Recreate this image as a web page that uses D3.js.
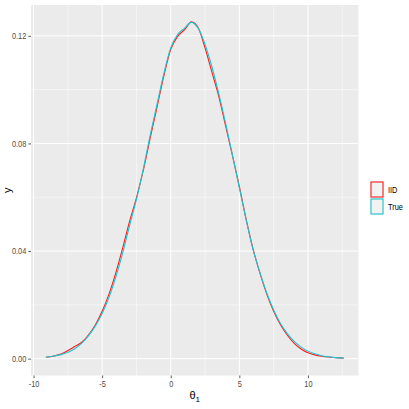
<!DOCTYPE html>
<html>
<head>
<meta charset="utf-8">
<script src="https://cdn.jsdelivr.net/npm/d3@7"></script>
<style>
  body { margin: 0; background: #fff; }
  text { font-family: "Liberation Sans", Arial, sans-serif; }
</style>
</head>
<body>
<script>
// density grid (x) and the two curves
var xs = [-9.1, -8.5, -8, -7.5, -7, -6.5, -6, -5.5, -5, -4.5, -4, -3.5, -3, -2.5, -2, -1.5, -1, -0.5,
          0, 0.5, 1, 1.5, 2, 2.5, 3, 3.5, 4, 4.5, 5, 5.5, 6, 6.5, 7, 7.5, 8, 8.5, 9, 9.5, 10,
          10.5, 11, 11.5, 12, 12.6];
var iid = [0.0005, 0.0010, 0.0017, 0.0030, 0.0045, 0.0060, 0.0088, 0.0125, 0.0176, 0.0240, 0.0320,
           0.0412, 0.0510, 0.0598, 0.0700, 0.0820, 0.0935, 0.1052, 0.1150, 0.1198, 0.1222, 0.1252,
           0.1230, 0.1155, 0.1065, 0.0975, 0.0865, 0.0755, 0.0640, 0.0518, 0.0408, 0.0318, 0.0240,
           0.0176, 0.0126, 0.0087, 0.0057, 0.0036, 0.0022, 0.0014, 0.0009, 0.0006, 0.0004, 0.0002];
var truth = [0.0005, 0.0010, 0.0015, 0.0024, 0.0037, 0.0057, 0.0085, 0.0121, 0.0168, 0.0228, 0.0304,
             0.0393, 0.0495, 0.0592, 0.0705, 0.0830, 0.0945, 0.1060, 0.1155, 0.1205, 0.1228, 0.1250,
             0.1228, 0.1168, 0.1085, 0.0985, 0.0875, 0.0756, 0.0635, 0.0515, 0.0405, 0.0320, 0.0244,
             0.0181, 0.0131, 0.0093, 0.0064, 0.0043, 0.0028, 0.0018, 0.0011, 0.0007, 0.0004, 0.0002];
var seriesNames = ["IID", "True"];
var seriesColors = ["#FF1A1A", "#1CC6D0"];
var xTicks = [-10, -5, 0, 5, 10];
var yTicks = [0, 0.04, 0.08, 0.12];

var W = 409, H = 409;
var panel = { left: 31, top: 5, right: 358.5, bottom: 375.5 };

// ggplot style 5% expansion
var xr = d3.extent(xs), xpad = (xr[1] - xr[0]) * 0.05;
var ymax = d3.max(iid.concat(truth)), ypad = ymax * 0.05;

var x = d3.scaleLinear().domain([xr[0] - xpad, xr[1] + xpad]).range([panel.left, panel.right]);
var y = d3.scaleLinear().domain([-ypad, ymax + ypad]).range([panel.bottom, panel.top]);

var svg = d3.select("body").append("svg")
    .attr("width", W)
    .attr("height", H);

// squeeze text a little, the reference font is a narrow one
function narrow(sel, k) {
    sel.each(function () {
        var w = this.getComputedTextLength();
        d3.select(this).attr("textLength", w * k).attr("lengthAdjust", "spacingAndGlyphs");
    });
}

// panel background
svg.append("rect")
    .attr("x", panel.left).attr("y", panel.top)
    .attr("width", panel.right - panel.left).attr("height", panel.bottom - panel.top)
    .attr("fill", "#EBEBEB");

// minor grid
var xMinor = d3.range(-7.5, 13.6, 5);
var yMinor = [0.02, 0.06, 0.10];
svg.append("g").selectAll("line").data(xMinor).enter().append("line")
    .attr("x1", function (d) { return x(d); }).attr("x2", function (d) { return x(d); })
    .attr("y1", panel.top).attr("y2", panel.bottom)
    .attr("stroke", "#fff").attr("stroke-width", 0.5);
svg.append("g").selectAll("line").data(yMinor).enter().append("line")
    .attr("y1", function (d) { return y(d); }).attr("y2", function (d) { return y(d); })
    .attr("x1", panel.left).attr("x2", panel.right)
    .attr("stroke", "#fff").attr("stroke-width", 0.5);

// major grid
svg.append("g").selectAll("line").data(xTicks).enter().append("line")
    .attr("x1", function (d) { return x(d); }).attr("x2", function (d) { return x(d); })
    .attr("y1", panel.top).attr("y2", panel.bottom)
    .attr("stroke", "#fff").attr("stroke-width", 1);
svg.append("g").selectAll("line").data(yTicks).enter().append("line")
    .attr("y1", function (d) { return y(d); }).attr("y2", function (d) { return y(d); })
    .attr("x1", panel.left).attr("x2", panel.right)
    .attr("stroke", "#fff").attr("stroke-width", 1);

// axes
var xAxis = d3.axisBottom(x).tickValues(xTicks).tickSize(2.7).tickPadding(2).tickFormat(d3.format("d"));
var yAxis = d3.axisLeft(y).tickValues(yTicks).tickSize(2.7).tickPadding(2).tickFormat(d3.format(".2f"));

var gx = svg.append("g").attr("transform", "translate(0," + panel.bottom + ")").call(xAxis);
var gy = svg.append("g").attr("transform", "translate(" + panel.left + ",0)").call(yAxis);
[gx, gy].forEach(function (g) {
    g.select(".domain").remove();
    g.selectAll(".tick line").attr("stroke", "#333333").attr("stroke-width", 0.8);
    g.selectAll(".tick text").attr("fill", "#4D4D4D").style("font-size", "9px");
});
gx.selectAll(".tick text").text(function (d) { return d < 0 ? "-" + Math.abs(d) : d; });
narrow(gx.selectAll(".tick text"), 0.82);
narrow(gy.selectAll(".tick text"), 0.82);

// density lines
var line = d3.line()
    .x(function (d) { return x(d[0]); })
    .y(function (d) { return y(d[1]); })
    .curve(d3.curveMonotoneX);

[iid, truth].forEach(function (vals, i) {
    svg.append("path")
        .datum(xs.map(function (v, j) { return [v, vals[j]]; }))
        .attr("d", line)
        .attr("fill", "none")
        .attr("stroke", seriesColors[i])
        .attr("stroke-width", 1.1);
});

// axis titles
svg.append("text")
    .attr("x", (panel.left + panel.right) / 2).attr("y", 399)
    .attr("text-anchor", "middle")
    .style("font-size", "11px").attr("fill", "#000")
    .html("\u03B8<tspan dy='2.5' style='font-size:8px'>1</tspan>");

svg.append("text")
    .attr("transform", "translate(11," + ((panel.top + panel.bottom) / 2) + ") rotate(-90)")
    .attr("text-anchor", "middle")
    .style("font-size", "11px").attr("fill", "#000")
    .text("y");

// legend
var legend = svg.append("g").attr("transform", "translate(370,181)");
seriesNames.forEach(function (name, i) {
    var g = legend.append("g").attr("transform", "translate(0," + (i * 17) + ")");
    g.append("rect").attr("width", 14).attr("height", 17).attr("fill", "#F2F2F2");
    g.append("rect").attr("x", 1).attr("y", 1).attr("width", 12).attr("height", 15)
        .attr("fill", "none").attr("stroke", seriesColors[i]).attr("stroke-width", 1.1);
    var t = g.append("text").attr("x", 18).attr("y", 12)
        .style("font-size", "9px").attr("fill", "#000")
        .text(name);
    narrow(t, 0.82);
});
</script>
</body>
</html>
